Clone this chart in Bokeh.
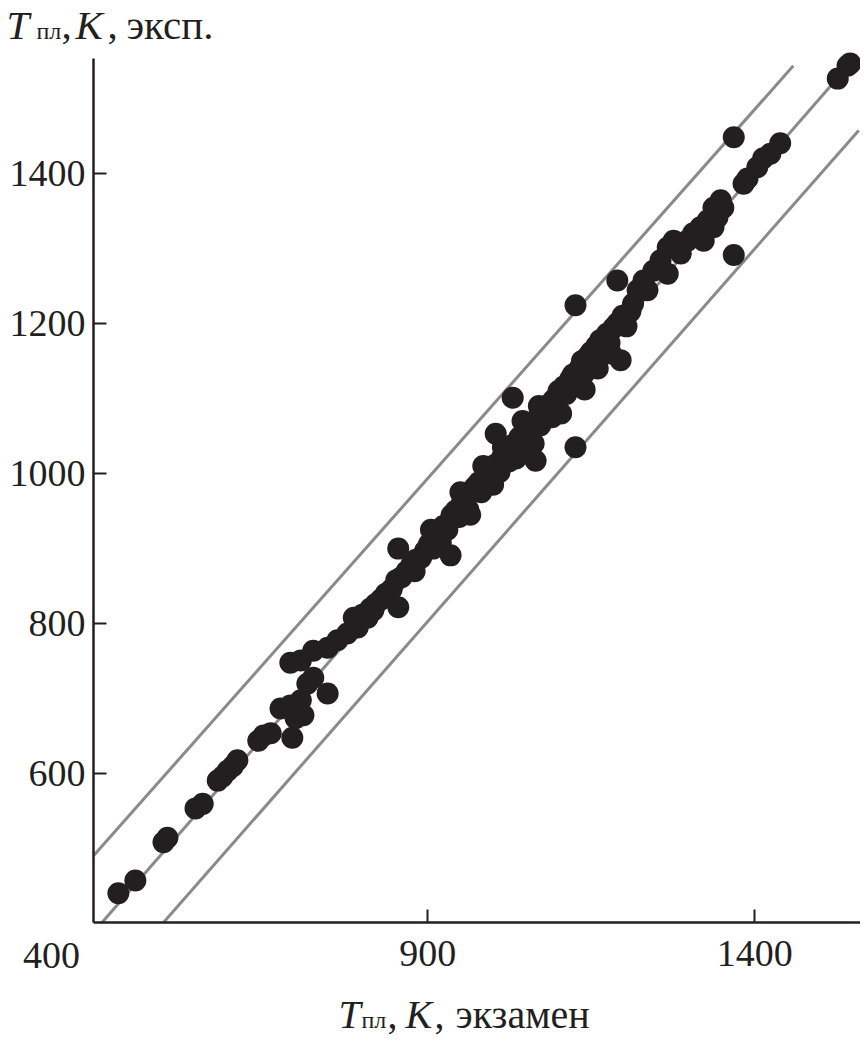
from bokeh.plotting import figure
from bokeh.models import Range1d, Label, FixedTicker
from bokeh.embed import file_html
from bokeh.resources import INLINE

# ---- data ----
x_ticks = [900, 1400]
y_ticks = [600, 800, 1000, 1200, 1400]
x_start, y_start = 389, 402          # where the two axes meet
y_end = 1553                         # top of the vertical axis

exam = [427, 453, 496, 502, 545, 556, 579, 586, 594, 602, 609, 641, 649, 660, 693, 675, 690, 706, 710, 698,
        690, 706, 725, 747, 762, 777, 793, 808, 817, 787, 747, 725, 716,
        800, 812, 820, 828, 836, 845, 855, 855, 852, 860, 868, 875, 882, 890, 896, 902, 908, 912, 918, 924,
        930, 935, 936, 942, 948, 952, 958, 962, 968, 972, 978, 982, 988, 994, 998, 1004, 1004, 1010, 1014,
        1020, 1024, 1030, 1030, 1036, 1040, 1046, 1050, 1055, 1060, 1062, 1065, 1068, 1072, 1078, 1082, 1086,
        1092, 1096, 1100, 1104, 1108, 1112, 1118, 1122, 1126, 1126, 1128, 1132, 1136, 1140, 1145, 1150, 1154,
        1158, 1164, 1168, 1174, 1178, 1184, 1190, 1190, 1195, 1198, 1204, 1210, 1214, 1140, 1160, 1180,
        1221, 1230, 1236, 1245, 1256, 1267, 1267, 1276, 1287, 1297, 1306, 1317, 1322, 1328, 1337, 1337, 1343,
        1348, 1352, 1368, 1368, 1383, 1389, 1404, 1413, 1424, 1439, 1527, 1542, 1546,
        950, 965, 985, 1000, 1015, 1035, 1050, 1045, 1070, 1090, 880, 905, 920]
expt = [441, 458, 509, 515, 554, 560, 591, 596, 604, 610, 618, 644, 651, 654, 648, 687, 691, 698, 678, 674,
        748, 751, 764, 768, 778, 787, 795, 808, 818, 808, 707, 728, 720,
        812, 820, 826, 832, 840, 846, 822, 900, 858, 862, 870, 878, 885, 888, 897, 906, 900, 916, 924, 930,
        925, 891, 944, 950, 942, 960, 966, 952, 976, 982, 988, 975, 998, 1004, 994, 1053, 1012, 1002, 1022,
        1028, 1016, 1038, 1101, 1032, 1048, 1044, 1058, 1050, 1068, 1040, 1017, 1074, 1064, 1084, 1078, 1092,
        1098, 1086, 1110, 1080, 1116, 1106, 1126, 1132, 1224, 1035, 1120, 1140, 1150, 1134, 1156, 1162, 1150,
        1170, 1178, 1164, 1186, 1174, 1194, 1200, 1257, 1151, 1210, 1196, 1216, 1226, 1112, 1140, 1160,
        1244, 1257, 1244, 1270, 1284, 1266, 1301, 1310, 1293, 1310, 1320, 1328, 1310, 1337, 1328, 1354, 1341,
        1364, 1354, 1448, 1291, 1386, 1393, 1408, 1420, 1426, 1440, 1526, 1543, 1546,
        975, 945, 1010, 985, 1035, 1020, 1035, 1070, 1090, 1075, 870, 925, 908]

center_x = [402, 1552]
center_y = [402, 1552]
upper_x = [389, 1459]
upper_y = [491, 1543]
lower_x = [496, 1559]
lower_y = [402, 1457]

# ---- layout geometry (pixels) ----
INK = "#231f20"
GREY = "#8a8a8a"
W, H = 860, 1044
AX_L_PX, AX_B_PX = 93, 922            # pixel position of the axes corner
UX = 1 / 0.654                        # data units per pixel, horizontal
UY = 1 / 0.7508                       # data units per pixel, vertical
X0 = x_start - AX_L_PX * UX
X1 = X0 + W * UX
Y1 = y_start + AX_B_PX * UY
Y0 = Y1 - H * UY

p = figure(width=W, height=H, x_range=Range1d(X0, X1), y_range=Range1d(Y0, Y1),
           output_backend="svg", toolbar_location=None,
           min_border_left=0, min_border_right=0, min_border_top=0, min_border_bottom=0)
p.outline_line_color = None
p.grid.visible = False
p.background_fill_color = "white"
p.border_fill_color = "white"

p.line(upper_x, upper_y, line_color=GREY, line_width=3)
p.line(lower_x, lower_y, line_color=GREY, line_width=3)
p.line(center_x, center_y, line_color=GREY, line_width=3)
p.scatter(exam, expt, size=22, fill_color=INK, line_color=None)

p.xaxis.ticker = FixedTicker(ticks=x_ticks)
p.yaxis.ticker = FixedTicker(ticks=y_ticks)
p.xaxis.fixed_location = y_start
p.yaxis.fixed_location = x_start
p.xaxis.bounds = (x_start, X1)
p.yaxis.bounds = (y_start, y_end)
for ax in (p.xaxis[0], p.yaxis[0]):
    ax.axis_line_color = INK
    ax.axis_line_width = 2.5
    ax.major_tick_line_color = INK
    ax.major_tick_line_width = 2
    ax.major_tick_in = 13
    ax.major_tick_out = 0
    ax.minor_tick_line_color = None
    ax.major_label_text_font = "Liberation Serif"
    ax.major_label_text_font_size = "38px"
    ax.major_label_text_color = INK
p.yaxis.major_label_standoff = 8
p.xaxis.major_label_standoff = 18

BASE_FIX = 15   # Bokeh places the alphabetic baseline this much lower than asked

def px_x(px):
    return X0 + px * UX
def px_y(py):
    return Y1 - (py - BASE_FIX) * UY

def lab(text, px, py, size, italic=False, align="left"):
    p.add_layout(Label(x=px_x(px), y=px_y(py), text=text, text_font="Liberation Serif",
                       text_font_size=size, text_font_style="italic" if italic else "normal",
                       text_color=INK, text_align=align, text_baseline="alphabetic"))

# corner tick label
lab("400", 51, 970, "38px", align="center")

# x axis title
lab("T", 338, 1029, "40px", italic=True)
lab("пл", 361, 1034, "24px")
lab(",", 387, 1029, "40px")
lab("K", 405, 1029, "40px", italic=True)
lab(",", 434, 1029, "40px")
lab("экзамен", 455, 1029, "40px")

# y axis title
lab("T", 6, 39, "41px", italic=True)
lab("пл", 36, 45, "24px")
lab(",", 61, 39, "41px")
lab("K", 75, 39, "41px", italic=True)
lab(",", 107, 39, "41px")
lab("эксп.", 126, 39, "41px")

open("out.html", "w").write(file_html(p, INLINE))
